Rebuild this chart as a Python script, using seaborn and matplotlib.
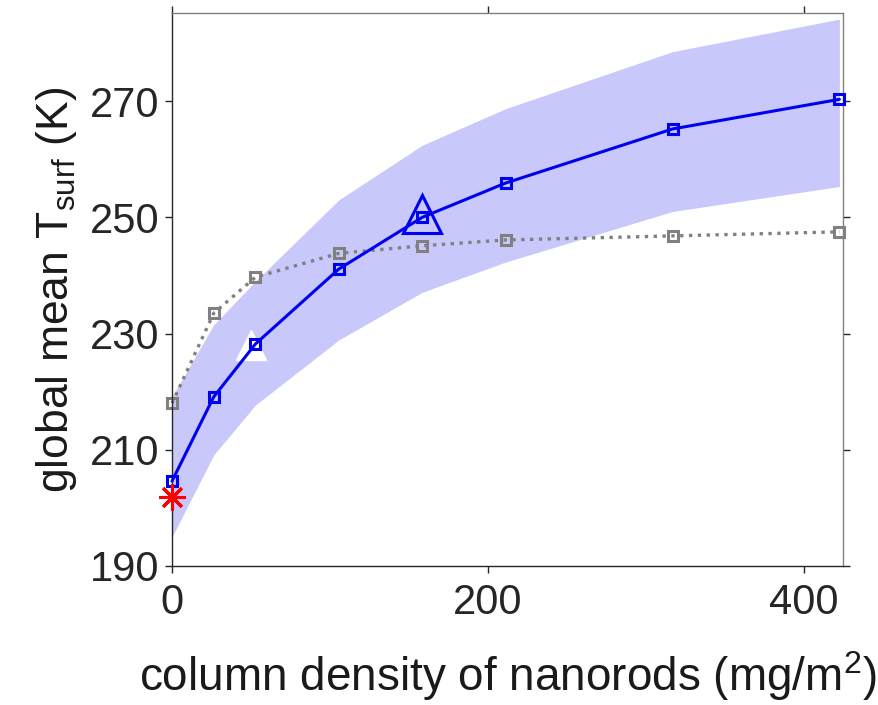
import numpy as np
import pandas as pd
import matplotlib
matplotlib.use('Agg')
import matplotlib.pyplot as plt
import seaborn as sns

# Data
density = [0, 26.4, 52.8, 105.6, 158.4, 211.2, 316.8, 422.4]
t_mean = [204.6, 219.1, 228.2, 241.1, 250.0, 255.9, 265.2, 270.3]
t_upper = [219.1, 231.5, 239.0, 253.0, 262.4, 268.7, 278.5, 284.1]
t_lower = [195.0, 209.1, 217.7, 228.9, 237.1, 242.3, 251.0, 255.3]
t_gray = [218.0, 233.5, 239.7, 243.8, 245.1, 246.1, 246.8, 247.5]

star_x, star_y = [0], [201.9]
white_tri_x, white_tri_y = [50], [228.0]
big_tri_x, big_tri_y = [158.4], [250.6]

xticks = [0, 200, 400]
yticks = [190, 210, 230, 250, 270]

df = pd.DataFrame({'density': density, 'mean': t_mean, 'gray': t_gray})

sns.set_style('ticks')
plt.rcParams['font.family'] = ['Liberation Sans', 'DejaVu Sans']
plt.rcParams['mathtext.fontset'] = 'custom'
plt.rcParams['mathtext.rm'] = 'Liberation Sans'

fig = plt.figure(figsize=(8.79, 7.05), dpi=100)
ax = fig.add_axes([0.1957, 0.1972, 0.7630, 0.7839])

# uncertainty band
ax.fill_between(density, t_lower, t_upper, color='#c8c8fb', linewidth=0, zorder=1)

# gray dotted curve
sns.lineplot(data=df, x='density', y='gray', ax=ax, color='#808080', linestyle=':',
             linewidth=2.4, marker='s', markersize=7, markerfacecolor='none',
             markeredgecolor='#808080', markeredgewidth=2.2, estimator=None,
             sort=False, zorder=2, clip_on=False)

# white triangle
ax.plot(white_tri_x, white_tri_y, marker='^', markersize=21, color='white',
        linestyle='none', zorder=3)

# blue solid curve
sns.lineplot(data=df, x='density', y='mean', ax=ax, color='#0000f0', linewidth=2.2,
             marker='s', markersize=7, markerfacecolor='none',
             markeredgecolor='#0000f0', markeredgewidth=2.2, estimator=None,
             sort=False, zorder=4, clip_on=False)

# big open triangle
ax.plot(big_tri_x, big_tri_y, marker='^', markersize=27, markerfacecolor='none',
        markeredgecolor='#0000f0', markeredgewidth=2.2, linestyle='none', zorder=5)

# red asterisk
ax.plot(star_x, star_y, marker=(8, 2, 0), markersize=19, color='#ff0000',
        markeredgewidth=2.2, linestyle='none', zorder=6, clip_on=False)

ax.set_xlim(0, 424.5)
ax.set_ylim(190, 285.1)
ax.set_xticks(xticks)
ax.set_yticks(yticks)
ax.tick_params(direction='out', length=5, width=1, labelsize=30, colors='#262626',
               top=True, right=True, labeltop=False, labelright=False)
ax.tick_params(axis='x', pad=7)
ax.tick_params(axis='y', pad=4)
for side in ['left', 'bottom']:
    ax.spines[side].set_color('#262626')
for side in ['top', 'right']:
    ax.spines[side].set_color('#808080')
for s in ax.spines.values():
    s.set_linewidth(1)

ax.set_xlabel('column density of nanorods (mg/m$\\mathregular{^2}$)', fontsize=33,
              color='#1a1a1a', labelpad=19)
ax.set_ylabel('global mean T$\\mathregular{_{surf}}$ (K)', fontsize=32,
              color='#1a1a1a', labelpad=8)
ax.grid(False)

fig.savefig('out.png', dpi=100)
